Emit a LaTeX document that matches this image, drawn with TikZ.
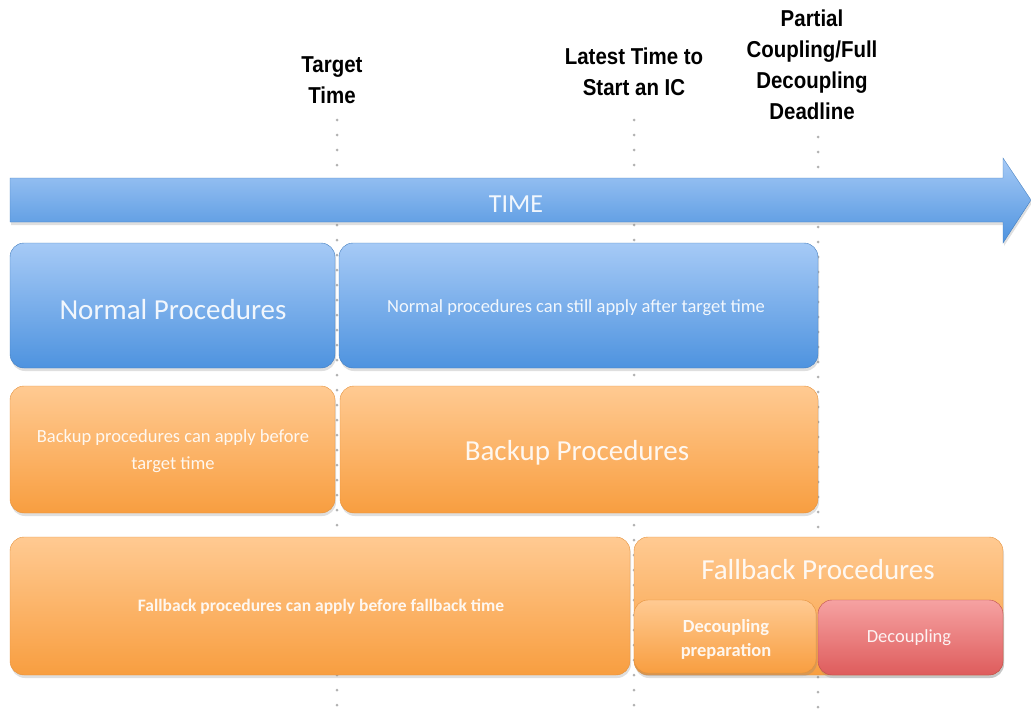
\documentclass[tikz,border=0pt]{standalone}
\usepackage{fontspec}
\setmainfont{Carlito}
\newfontfamily\labelfont[FakeStretch=0.89]{Liberation Sans}
\usetikzlibrary{shadows}

\definecolor{blueTop}{HTML}{A6CAF6}
\definecolor{blueBot}{HTML}{4E93DF}
\definecolor{orangeTop}{HTML}{FFCA92}
\definecolor{orangeBot}{HTML}{F89E40}
\definecolor{redTop}{HTML}{F6A2A2}
\definecolor{redBot}{HTML}{DE5C5C}

\begin{document}
\begin{tikzpicture}[x=1pt,y=-1pt,
    proc/.style={rounded corners=14pt, inner sep=0pt, outer sep=0pt, anchor=north west,
      drop shadow={shadow xshift=1pt, shadow yshift=-3pt, opacity=.25}},
    blueproc/.style={proc, top color=blueTop, bottom color=blueBot, draw=blueBot!85!black},
    orangeproc/.style={proc, top color=orangeTop, bottom color=orangeBot, draw=orangeBot!92!black},
    redproc/.style={proc, top color=redTop, bottom color=redBot, draw=redBot!85!black},
    bigtxt/.style={text=white, text opacity=.9, font=\fontsize{29}{32}\selectfont},
    smalltxt/.style={text=white, text opacity=.9, align=center, font=\fontsize{18.5}{27}\selectfont},
    timelabel/.style={align=center, font=\labelfont\bfseries\fontsize{23}{31}\selectfont},
    tick/.style={gray!60, line width=3pt, line cap=round, dash pattern=on 0pt off 15pt}]
  \useasboundingbox (0,0) rectangle (1031,718);

  % time marks
  \node[timelabel] (tt) at (332,80) {Target\\Time};
  \node[timelabel] (ic) at (634,72) {Latest Time to\\Start an IC};
  \node[timelabel] (dl) at (812,65) {Partial\\Coupling/Full\\Decoupling\\Deadline};
  \coordinate (ttTop) at (337,120);
  \coordinate (ttBot) at (337,718);
  \coordinate (icTop) at (634,120);
  \coordinate (icBot) at (634,718);
  \coordinate (dlTop) at (818,137);
  \coordinate (dlBot) at (818,718);
  \begin{scope}[tick]
    \draw (ttTop) -- (ttBot);
    \draw (icTop) -- (icBot);
    \draw (dlTop) -- (dlBot);
  \end{scope}

  % time arrow
  \path[top color=blueTop, bottom color=blueBot, draw=blueBot!85!black,
        drop shadow={shadow xshift=1pt, shadow yshift=-3pt, opacity=.25}]
    (10,178) -- (1003,178) -- (1003,158) -- (1031,200) -- (1003,243) -- (1003,222) -- (10,222) -- cycle;
  \node[text=white, text opacity=.9, font=\fontsize{26}{28}\selectfont] (time) at (516,204) {TIME};

  % procedures
  \node[blueproc, minimum width=325, minimum height=125] (np) at (10,243) {};
  \node[bigtxt] (npT) at (173,310) {Normal Procedures};
  \node[blueproc, minimum width=479, minimum height=125] (npa) at (339,243) {};
  \node[smalltxt] (npaT) at (576,308) {Normal procedures can still apply after target time};

  \node[orangeproc, minimum width=325, minimum height=127] (bpb) at (10,386) {};
  \node[smalltxt] (bpbT) at (173,451) {Backup procedures can apply before\\target time};
  \node[orangeproc, minimum width=478, minimum height=127] (bp) at (340,386) {};
  \node[bigtxt] (bpT) at (577,453) {Backup Procedures};

  \node[orangeproc, minimum width=620, minimum height=138] (fpb) at (10,537) {};
  \node[smalltxt, font=\bfseries\fontsize{17.5}{21}\selectfont] (fpbT) at (321,607)
    {Fallback procedures can apply before fallback time};
  \node[orangeproc, minimum width=369, minimum height=138] (fp) at (634,537) {};
  \node[bigtxt] (fpT) at (818,570) {Fallback Procedures};
  \node[orangeproc, minimum width=182, minimum height=73] (dp) at (634,600) {};
  \node[smalltxt, font=\bfseries\fontsize{18.5}{24}\selectfont] (dpT) at (726,639) {Decoupling\\preparation};
  \node[redproc, minimum width=185, minimum height=75] (dc) at (818,600) {};
  \node[smalltxt, font=\fontsize{18.5}{22}\selectfont] (dcT) at (909,638) {Decoupling};
\end{tikzpicture}
\end{document}
